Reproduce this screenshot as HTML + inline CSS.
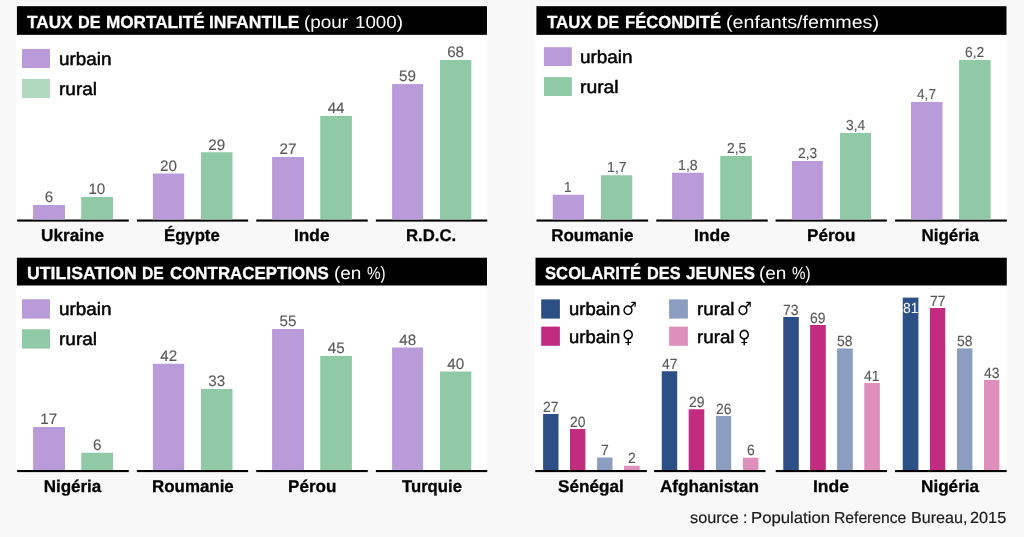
<!DOCTYPE html>
<html lang="fr"><head><meta charset="utf-8"><title>Urbain / rural</title>
<style>
html,body{margin:0;padding:0}
body{width:1024px;height:537px;background:#f8f8f8;position:relative;overflow:hidden;font-family:'Liberation Sans', 'DejaVu Sans', sans-serif}
.r{position:absolute}
.t{position:absolute;white-space:nowrap;transform-origin:0 0;text-rendering:geometricPrecision}
</style></head>
<body>
<svg class="r" width="1024" height="537" viewBox="0 0 1024 537" style="left:0;top:0">
<rect x="16.00" y="5.00" width="471.60" height="214.50" fill="#fff"/>
<rect x="16.90" y="6.20" width="470.10" height="28.65" fill="#000"/>
<rect x="17.10" y="219.50" width="111.65" height="2.10" fill="#000"/>
<rect x="33.10" y="205.00" width="31.90" height="14.50" fill="#b89bd8"/>
<rect x="81.25" y="197.00" width="31.85" height="22.50" fill="#8fc9a5"/>
<rect x="136.90" y="219.50" width="111.20" height="2.10" fill="#000"/>
<rect x="152.90" y="173.50" width="31.30" height="46.00" fill="#b89bd8"/>
<rect x="201.00" y="152.25" width="31.50" height="67.25" fill="#8fc9a5"/>
<rect x="256.25" y="219.50" width="111.50" height="2.10" fill="#000"/>
<rect x="272.10" y="157.00" width="31.90" height="62.50" fill="#b89bd8"/>
<rect x="320.25" y="116.00" width="31.65" height="103.50" fill="#8fc9a5"/>
<rect x="375.90" y="219.50" width="111.35" height="2.10" fill="#000"/>
<rect x="392.10" y="84.10" width="31.00" height="135.40" fill="#b89bd8"/>
<rect x="440.00" y="60.00" width="31.30" height="159.50" fill="#8fc9a5"/>
<rect x="22.00" y="48.90" width="28.00" height="19.10" fill="#b89bd8"/>
<rect x="22.00" y="79.00" width="28.00" height="19.00" fill="#b0d9c0"/>
<rect x="535.50" y="5.00" width="471.60" height="214.50" fill="#fff"/>
<rect x="536.40" y="6.20" width="470.10" height="28.65" fill="#000"/>
<rect x="536.50" y="219.50" width="111.60" height="2.10" fill="#000"/>
<rect x="552.75" y="194.75" width="31.25" height="24.75" fill="#b89bd8"/>
<rect x="601.00" y="175.25" width="31.25" height="44.25" fill="#8fc9a5"/>
<rect x="656.25" y="219.50" width="111.50" height="2.10" fill="#000"/>
<rect x="672.10" y="172.75" width="31.65" height="46.75" fill="#b89bd8"/>
<rect x="720.25" y="156.00" width="31.65" height="63.50" fill="#8fc9a5"/>
<rect x="775.60" y="219.50" width="111.30" height="2.10" fill="#000"/>
<rect x="791.90" y="161.00" width="30.90" height="58.50" fill="#b89bd8"/>
<rect x="840.00" y="133.00" width="31.00" height="86.50" fill="#8fc9a5"/>
<rect x="895.10" y="219.50" width="111.80" height="2.10" fill="#000"/>
<rect x="911.00" y="102.00" width="31.50" height="117.50" fill="#b89bd8"/>
<rect x="959.10" y="60.00" width="31.50" height="159.50" fill="#8fc9a5"/>
<rect x="543.90" y="47.20" width="27.90" height="18.80" fill="#b89bd8"/>
<rect x="543.90" y="77.20" width="27.90" height="18.80" fill="#8fc9a5"/>
<rect x="16.00" y="256.50" width="471.60" height="213.50" fill="#fff"/>
<rect x="16.90" y="257.70" width="470.10" height="27.80" fill="#000"/>
<rect x="17.10" y="470.00" width="111.65" height="2.10" fill="#000"/>
<rect x="33.10" y="427.00" width="31.90" height="43.00" fill="#b89bd8"/>
<rect x="81.25" y="452.75" width="31.85" height="17.25" fill="#8fc9a5"/>
<rect x="136.90" y="470.00" width="111.20" height="2.10" fill="#000"/>
<rect x="152.90" y="363.75" width="31.30" height="106.25" fill="#b89bd8"/>
<rect x="201.00" y="389.00" width="31.50" height="81.00" fill="#8fc9a5"/>
<rect x="256.25" y="470.00" width="111.50" height="2.10" fill="#000"/>
<rect x="272.10" y="329.00" width="31.90" height="141.00" fill="#b89bd8"/>
<rect x="320.25" y="356.00" width="31.65" height="114.00" fill="#8fc9a5"/>
<rect x="375.90" y="470.00" width="111.35" height="2.10" fill="#000"/>
<rect x="392.10" y="347.50" width="31.00" height="122.50" fill="#b89bd8"/>
<rect x="440.00" y="371.50" width="31.30" height="98.50" fill="#8fc9a5"/>
<rect x="22.00" y="299.30" width="28.00" height="19.30" fill="#b89bd8"/>
<rect x="22.00" y="329.30" width="28.00" height="19.30" fill="#8fc9a5"/>
<rect x="534.60" y="256.50" width="472.50" height="213.50" fill="#fff"/>
<rect x="535.50" y="257.70" width="471.30" height="27.80" fill="#000"/>
<rect x="541.20" y="299.40" width="18.70" height="19.20" fill="#2c5086"/>
<rect x="541.20" y="326.60" width="18.70" height="19.20" fill="#c12c80"/>
<rect x="669.10" y="299.40" width="18.80" height="19.20" fill="#8b9ec0"/>
<rect x="669.10" y="326.60" width="18.80" height="19.20" fill="#de8fbb"/>
<rect x="535.30" y="470.00" width="111.60" height="2.10" fill="#000"/>
<rect x="543.10" y="414.00" width="15.40" height="56.00" fill="#2c5086"/>
<rect x="570.00" y="429.00" width="15.40" height="41.00" fill="#c12c80"/>
<rect x="597.10" y="457.50" width="15.40" height="12.50" fill="#8b9ec0"/>
<rect x="624.00" y="465.75" width="15.70" height="4.25" fill="#de8fbb"/>
<rect x="654.10" y="470.00" width="111.40" height="2.10" fill="#000"/>
<rect x="661.75" y="371.25" width="15.45" height="98.75" fill="#2c5086"/>
<rect x="688.70" y="409.25" width="15.60" height="60.75" fill="#c12c80"/>
<rect x="715.90" y="416.00" width="15.30" height="54.00" fill="#8b9ec0"/>
<rect x="743.00" y="457.75" width="15.40" height="12.25" fill="#de8fbb"/>
<rect x="775.75" y="470.00" width="111.25" height="2.10" fill="#000"/>
<rect x="783.25" y="317.00" width="15.55" height="153.00" fill="#2c5086"/>
<rect x="810.10" y="325.00" width="15.70" height="145.00" fill="#c12c80"/>
<rect x="837.10" y="348.50" width="15.70" height="121.50" fill="#8b9ec0"/>
<rect x="864.25" y="383.00" width="15.65" height="87.00" fill="#de8fbb"/>
<rect x="895.10" y="470.00" width="111.65" height="2.10" fill="#000"/>
<rect x="902.75" y="297.60" width="15.65" height="172.40" fill="#2c5086"/>
<rect x="929.90" y="308.00" width="15.40" height="162.00" fill="#c12c80"/>
<rect x="957.00" y="348.40" width="15.40" height="121.60" fill="#8b9ec0"/>
<rect x="984.00" y="380.00" width="15.40" height="90.00" fill="#de8fbb"/>
</svg>
<div class="t" style="left:44.81px;top:186.00px;color:#585858;font:400 15.2px/24px 'Liberation Sans', 'DejaVu Sans', sans-serif;-webkit-text-stroke:0.12px currentColor;">6</div>
<div class="t" style="left:88.40px;top:178.00px;color:#585858;font:400 15.2px/24px 'Liberation Sans', 'DejaVu Sans', sans-serif;-webkit-text-stroke:0.12px currentColor;">10</div>
<div class="t" style="left:41.38px;top:224.00px;color:#000;font:700 17px/24px 'Liberation Sans', 'DejaVu Sans', sans-serif;-webkit-text-stroke:0.3px currentColor;transform:scaleX(1.0118);">Ukraine</div>
<div class="t" style="left:160.02px;top:155.00px;color:#585858;font:400 15.2px/24px 'Liberation Sans', 'DejaVu Sans', sans-serif;-webkit-text-stroke:0.12px currentColor;">20</div>
<div class="t" style="left:208.27px;top:134.00px;color:#585858;font:400 15.2px/24px 'Liberation Sans', 'DejaVu Sans', sans-serif;-webkit-text-stroke:0.12px currentColor;">29</div>
<div class="t" style="left:164.43px;top:224.00px;color:#000;font:700 17px/24px 'Liberation Sans', 'DejaVu Sans', sans-serif;-webkit-text-stroke:0.3px currentColor;transform:scaleX(0.9832);">Égypte</div>
<div class="t" style="left:279.58px;top:138.00px;color:#585858;font:400 15.2px/24px 'Liberation Sans', 'DejaVu Sans', sans-serif;-webkit-text-stroke:0.12px currentColor;">27</div>
<div class="t" style="left:327.65px;top:97.00px;color:#585858;font:400 15.2px/24px 'Liberation Sans', 'DejaVu Sans', sans-serif;-webkit-text-stroke:0.12px currentColor;">44</div>
<div class="t" style="left:294.15px;top:224.00px;color:#000;font:700 17px/24px 'Liberation Sans', 'DejaVu Sans', sans-serif;-webkit-text-stroke:0.3px currentColor;transform:scaleX(1.0161);">Inde</div>
<div class="t" style="left:399.06px;top:65.00px;color:#585858;font:400 15.2px/24px 'Liberation Sans', 'DejaVu Sans', sans-serif;-webkit-text-stroke:0.12px currentColor;">59</div>
<div class="t" style="left:447.14px;top:41.00px;color:#585858;font:400 15.2px/24px 'Liberation Sans', 'DejaVu Sans', sans-serif;-webkit-text-stroke:0.12px currentColor;">68</div>
<div class="t" style="left:406.18px;top:224.00px;color:#000;font:700 17px/24px 'Liberation Sans', 'DejaVu Sans', sans-serif;-webkit-text-stroke:0.3px currentColor;transform:scaleX(0.9838);">R.D.C.</div>
<div class="t" style="left:27.18px;top:10.00px;color:#fff;font:700 17.5px/24px 'Liberation Sans', 'DejaVu Sans', sans-serif;-webkit-text-stroke:0.3px currentColor;transform:scaleX(0.9843);">TAUX</div>
<div class="t" style="left:77.68px;top:10.00px;color:#fff;font:700 17.5px/24px 'Liberation Sans', 'DejaVu Sans', sans-serif;-webkit-text-stroke:0.3px currentColor;transform:scaleX(0.9278);">DE</div>
<div class="t" style="left:105.52px;top:10.00px;color:#fff;font:700 17.5px/24px 'Liberation Sans', 'DejaVu Sans', sans-serif;-webkit-text-stroke:0.3px currentColor;transform:scaleX(0.9785);">MORTALITÉ</div>
<div class="t" style="left:208.90px;top:10.00px;color:#fff;font:700 17.5px/24px 'Liberation Sans', 'DejaVu Sans', sans-serif;-webkit-text-stroke:0.3px currentColor;">INFANTILE</div>
<div class="t" style="left:303.69px;top:10.00px;color:#fff;font:400 17.5px/24px 'Liberation Sans', 'DejaVu Sans', sans-serif;transform:scaleX(1.0787);">(pour</div>
<div class="t" style="left:354.56px;top:10.00px;color:#fff;font:400 17.5px/24px 'Liberation Sans', 'DejaVu Sans', sans-serif;transform:scaleX(1.0717);">1000)</div>
<div class="t" style="left:58.74px;top:47.00px;color:#000;font:400 18px/24px 'Liberation Sans', 'DejaVu Sans', sans-serif;-webkit-text-stroke:0.5px currentColor;transform:scaleX(1.0483);">urbain</div>
<div class="t" style="left:58.74px;top:77.00px;color:#000;font:400 18px/24px 'Liberation Sans', 'DejaVu Sans', sans-serif;-webkit-text-stroke:0.5px currentColor;transform:scaleX(1.0561);">rural</div>
<div class="t" style="left:564.40px;top:176.00px;color:#585858;font:400 14.5px/24px 'Liberation Sans', 'DejaVu Sans', sans-serif;-webkit-text-stroke:0.12px currentColor;transform:scaleX(0.9300);">1</div>
<div class="t" style="left:606.59px;top:156.00px;color:#585858;font:400 14.5px/24px 'Liberation Sans', 'DejaVu Sans', sans-serif;-webkit-text-stroke:0.12px currentColor;transform:scaleX(0.9785);">1,7</div>
<div class="t" style="left:551.17px;top:224.00px;color:#000;font:700 17px/24px 'Liberation Sans', 'DejaVu Sans', sans-serif;-webkit-text-stroke:0.3px currentColor;">Roumanie</div>
<div class="t" style="left:677.89px;top:154.00px;color:#585858;font:400 14.5px/24px 'Liberation Sans', 'DejaVu Sans', sans-serif;-webkit-text-stroke:0.12px currentColor;transform:scaleX(0.9766);">1,8</div>
<div class="t" style="left:726.51px;top:137.00px;color:#585858;font:400 14.5px/24px 'Liberation Sans', 'DejaVu Sans', sans-serif;-webkit-text-stroke:0.12px currentColor;transform:scaleX(0.9517);">2,5</div>
<div class="t" style="left:693.63px;top:224.00px;color:#000;font:700 17px/24px 'Liberation Sans', 'DejaVu Sans', sans-serif;-webkit-text-stroke:0.3px currentColor;transform:scaleX(1.0310);">Inde</div>
<div class="t" style="left:797.78px;top:142.00px;color:#585858;font:400 14.5px/24px 'Liberation Sans', 'DejaVu Sans', sans-serif;-webkit-text-stroke:0.12px currentColor;transform:scaleX(0.9531);">2,3</div>
<div class="t" style="left:845.86px;top:114.00px;color:#585858;font:400 14.5px/24px 'Liberation Sans', 'DejaVu Sans', sans-serif;-webkit-text-stroke:0.12px currentColor;transform:scaleX(0.9525);">3,4</div>
<div class="t" style="left:807.41px;top:224.00px;color:#000;font:700 17px/24px 'Liberation Sans', 'DejaVu Sans', sans-serif;-webkit-text-stroke:0.3px currentColor;transform:scaleX(1.0044);">Pérou</div>
<div class="t" style="left:917.37px;top:83.00px;color:#585858;font:400 14.5px/24px 'Liberation Sans', 'DejaVu Sans', sans-serif;-webkit-text-stroke:0.12px currentColor;transform:scaleX(0.9446);">4,7</div>
<div class="t" style="left:965.25px;top:41.00px;color:#585858;font:400 14.5px/24px 'Liberation Sans', 'DejaVu Sans', sans-serif;-webkit-text-stroke:0.12px currentColor;transform:scaleX(0.9559);">6,2</div>
<div class="t" style="left:921.41px;top:224.00px;color:#000;font:700 17px/24px 'Liberation Sans', 'DejaVu Sans', sans-serif;-webkit-text-stroke:0.3px currentColor;">Nigéria</div>
<div class="t" style="left:547.08px;top:10.00px;color:#fff;font:700 17.5px/24px 'Liberation Sans', 'DejaVu Sans', sans-serif;-webkit-text-stroke:0.3px currentColor;transform:scaleX(0.9647);">TAUX</div>
<div class="t" style="left:597.11px;top:10.00px;color:#fff;font:700 17.5px/24px 'Liberation Sans', 'DejaVu Sans', sans-serif;-webkit-text-stroke:0.3px currentColor;transform:scaleX(0.9014);">DE</div>
<div class="t" style="left:625.20px;top:10.00px;color:#fff;font:700 17.5px/24px 'Liberation Sans', 'DejaVu Sans', sans-serif;-webkit-text-stroke:0.3px currentColor;transform:scaleX(0.9496);">FÉCONDITÉ</div>
<div class="t" style="left:726.34px;top:10.00px;color:#fff;font:400 17.5px/24px 'Liberation Sans', 'DejaVu Sans', sans-serif;transform:scaleX(1.1237);">(enfants/femmes)</div>
<div class="t" style="left:580.43px;top:45.00px;color:#000;font:400 18px/24px 'Liberation Sans', 'DejaVu Sans', sans-serif;-webkit-text-stroke:0.5px currentColor;transform:scaleX(1.0503);">urbain</div>
<div class="t" style="left:580.42px;top:75.00px;color:#000;font:400 18px/24px 'Liberation Sans', 'DejaVu Sans', sans-serif;-webkit-text-stroke:0.5px currentColor;transform:scaleX(1.0738);">rural</div>
<div class="t" style="left:40.34px;top:408.00px;color:#585858;font:400 15.2px/24px 'Liberation Sans', 'DejaVu Sans', sans-serif;-webkit-text-stroke:0.12px currentColor;">17</div>
<div class="t" style="left:92.94px;top:434.00px;color:#585858;font:400 15.2px/24px 'Liberation Sans', 'DejaVu Sans', sans-serif;-webkit-text-stroke:0.12px currentColor;">6</div>
<div class="t" style="left:43.66px;top:475.00px;color:#000;font:700 17px/24px 'Liberation Sans', 'DejaVu Sans', sans-serif;-webkit-text-stroke:0.3px currentColor;">Nigéria</div>
<div class="t" style="left:160.23px;top:345.00px;color:#585858;font:400 15.2px/24px 'Liberation Sans', 'DejaVu Sans', sans-serif;-webkit-text-stroke:0.12px currentColor;">42</div>
<div class="t" style="left:208.27px;top:370.00px;color:#585858;font:400 15.2px/24px 'Liberation Sans', 'DejaVu Sans', sans-serif;-webkit-text-stroke:0.12px currentColor;">33</div>
<div class="t" style="left:151.67px;top:475.00px;color:#000;font:700 17px/24px 'Liberation Sans', 'DejaVu Sans', sans-serif;-webkit-text-stroke:0.3px currentColor;transform:scaleX(0.9951);">Roumanie</div>
<div class="t" style="left:279.49px;top:310.00px;color:#585858;font:400 15.2px/24px 'Liberation Sans', 'DejaVu Sans', sans-serif;-webkit-text-stroke:0.12px currentColor;">55</div>
<div class="t" style="left:327.73px;top:337.00px;color:#585858;font:400 15.2px/24px 'Liberation Sans', 'DejaVu Sans', sans-serif;-webkit-text-stroke:0.12px currentColor;">45</div>
<div class="t" style="left:288.16px;top:475.00px;color:#000;font:700 17px/24px 'Liberation Sans', 'DejaVu Sans', sans-serif;-webkit-text-stroke:0.3px currentColor;transform:scaleX(1.0044);">Pérou</div>
<div class="t" style="left:399.28px;top:329.00px;color:#585858;font:400 15.2px/24px 'Liberation Sans', 'DejaVu Sans', sans-serif;-webkit-text-stroke:0.12px currentColor;">48</div>
<div class="t" style="left:447.28px;top:353.00px;color:#585858;font:400 15.2px/24px 'Liberation Sans', 'DejaVu Sans', sans-serif;-webkit-text-stroke:0.12px currentColor;">40</div>
<div class="t" style="left:402.11px;top:475.00px;color:#000;font:700 17px/24px 'Liberation Sans', 'DejaVu Sans', sans-serif;-webkit-text-stroke:0.3px currentColor;transform:scaleX(0.9809);">Turquie</div>
<div class="t" style="left:27.00px;top:261.00px;color:#fff;font:700 17.5px/24px 'Liberation Sans', 'DejaVu Sans', sans-serif;-webkit-text-stroke:0.3px currentColor;transform:scaleX(1.0116);">UTILISATION</div>
<div class="t" style="left:142.41px;top:261.00px;color:#fff;font:700 17.5px/24px 'Liberation Sans', 'DejaVu Sans', sans-serif;-webkit-text-stroke:0.3px currentColor;transform:scaleX(0.8949);">DE</div>
<div class="t" style="left:170.28px;top:261.00px;color:#fff;font:700 17.5px/24px 'Liberation Sans', 'DejaVu Sans', sans-serif;-webkit-text-stroke:0.3px currentColor;transform:scaleX(0.9662);">CONTRACEPTIONS</div>
<div class="t" style="left:334.08px;top:261.00px;color:#fff;font:400 17.5px/24px 'Liberation Sans', 'DejaVu Sans', sans-serif;transform:scaleX(1.0839);">(en</div>
<div class="t" style="left:366.93px;top:261.00px;color:#fff;font:400 17.5px/24px 'Liberation Sans', 'DejaVu Sans', sans-serif;transform:scaleX(0.8689);">%)</div>
<div class="t" style="left:58.74px;top:297.00px;color:#000;font:400 18px/24px 'Liberation Sans', 'DejaVu Sans', sans-serif;-webkit-text-stroke:0.5px currentColor;transform:scaleX(1.0483);">urbain</div>
<div class="t" style="left:58.74px;top:327.00px;color:#000;font:400 18px/24px 'Liberation Sans', 'DejaVu Sans', sans-serif;-webkit-text-stroke:0.5px currentColor;transform:scaleX(1.0561);">rural</div>
<div class="t" style="left:545.00px;top:261.00px;color:#fff;font:700 17.5px/24px 'Liberation Sans', 'DejaVu Sans', sans-serif;-webkit-text-stroke:0.3px currentColor;transform:scaleX(0.9516);">SCOLARITÉ</div>
<div class="t" style="left:646.77px;top:261.00px;color:#fff;font:700 17.5px/24px 'Liberation Sans', 'DejaVu Sans', sans-serif;-webkit-text-stroke:0.3px currentColor;transform:scaleX(0.9324);">DES</div>
<div class="t" style="left:685.73px;top:261.00px;color:#fff;font:700 17.5px/24px 'Liberation Sans', 'DejaVu Sans', sans-serif;-webkit-text-stroke:0.3px currentColor;transform:scaleX(0.9849);">JEUNES</div>
<div class="t" style="left:759.08px;top:261.00px;color:#fff;font:400 17.5px/24px 'Liberation Sans', 'DejaVu Sans', sans-serif;transform:scaleX(1.0839);">(en</div>
<div class="t" style="left:791.93px;top:261.00px;color:#fff;font:400 17.5px/24px 'Liberation Sans', 'DejaVu Sans', sans-serif;transform:scaleX(0.8689);">%)</div>
<div class="t" style="left:568.86px;top:297.00px;color:#000;font:400 18px/24px 'Liberation Sans', 'DejaVu Sans', sans-serif;-webkit-text-stroke:0.5px currentColor;transform:scaleX(1.0253);">urbain</div>
<div class="t" style="left:568.86px;top:325.00px;color:#000;font:400 18px/24px 'Liberation Sans', 'DejaVu Sans', sans-serif;-webkit-text-stroke:0.5px currentColor;transform:scaleX(1.0253);">urbain</div>
<div class="t" style="left:696.55px;top:297.00px;color:#000;font:400 18px/24px 'Liberation Sans', 'DejaVu Sans', sans-serif;-webkit-text-stroke:0.5px currentColor;transform:scaleX(1.0413);">rural</div>
<div class="t" style="left:696.55px;top:325.00px;color:#000;font:400 18px/24px 'Liberation Sans', 'DejaVu Sans', sans-serif;-webkit-text-stroke:0.5px currentColor;transform:scaleX(1.0413);">rural</div>
<div class="t" style="left:621.82px;top:298.00px;color:#000;font:400 18.3px/24px 'DejaVu Sans', 'Liberation Sans', sans-serif;transform:scaleX(0.9076);">♂</div>
<div class="t" style="left:622.38px;top:326.00px;color:#000;font:400 18.4px/24px 'DejaVu Sans', 'Liberation Sans', sans-serif;transform:scaleX(0.9251);">♀</div>
<div class="t" style="left:737.32px;top:298.00px;color:#000;font:400 18.3px/24px 'DejaVu Sans', 'Liberation Sans', sans-serif;transform:scaleX(0.9076);">♂</div>
<div class="t" style="left:737.88px;top:326.00px;color:#000;font:400 18.4px/24px 'DejaVu Sans', 'Liberation Sans', sans-serif;transform:scaleX(0.9251);">♀</div>
<div class="t" style="left:543.09px;top:396.00px;color:#585858;font:400 14.8px/24px 'Liberation Sans', 'DejaVu Sans', sans-serif;-webkit-text-stroke:0.12px currentColor;transform:scaleX(0.9400);">27</div>
<div class="t" style="left:569.94px;top:411.00px;color:#585858;font:400 14.8px/24px 'Liberation Sans', 'DejaVu Sans', sans-serif;-webkit-text-stroke:0.12px currentColor;transform:scaleX(0.9400);">20</div>
<div class="t" style="left:600.96px;top:439.00px;color:#585858;font:400 14.8px/24px 'Liberation Sans', 'DejaVu Sans', sans-serif;-webkit-text-stroke:0.12px currentColor;transform:scaleX(0.9400);">7</div>
<div class="t" style="left:628.00px;top:447.00px;color:#585858;font:400 14.8px/24px 'Liberation Sans', 'DejaVu Sans', sans-serif;-webkit-text-stroke:0.12px currentColor;transform:scaleX(0.9400);">2</div>
<div class="t" style="left:557.52px;top:475.00px;color:#000;font:700 17px/24px 'Liberation Sans', 'DejaVu Sans', sans-serif;-webkit-text-stroke:0.3px currentColor;transform:scaleX(1.0089);">Sénégal</div>
<div class="t" style="left:661.85px;top:353.00px;color:#585858;font:400 14.8px/24px 'Liberation Sans', 'DejaVu Sans', sans-serif;-webkit-text-stroke:0.12px currentColor;transform:scaleX(0.9400);">47</div>
<div class="t" style="left:688.78px;top:391.00px;color:#585858;font:400 14.8px/24px 'Liberation Sans', 'DejaVu Sans', sans-serif;-webkit-text-stroke:0.12px currentColor;transform:scaleX(0.9400);">29</div>
<div class="t" style="left:715.83px;top:398.00px;color:#585858;font:400 14.8px/24px 'Liberation Sans', 'DejaVu Sans', sans-serif;-webkit-text-stroke:0.12px currentColor;transform:scaleX(0.9400);">26</div>
<div class="t" style="left:746.81px;top:439.00px;color:#585858;font:400 14.8px/24px 'Liberation Sans', 'DejaVu Sans', sans-serif;-webkit-text-stroke:0.12px currentColor;transform:scaleX(0.9400);">6</div>
<div class="t" style="left:659.85px;top:475.00px;color:#000;font:700 17px/24px 'Liberation Sans', 'DejaVu Sans', sans-serif;-webkit-text-stroke:0.3px currentColor;transform:scaleX(1.0063);">Afghanistan</div>
<div class="t" style="left:783.31px;top:299.00px;color:#585858;font:400 14.8px/24px 'Liberation Sans', 'DejaVu Sans', sans-serif;-webkit-text-stroke:0.12px currentColor;transform:scaleX(0.9400);">73</div>
<div class="t" style="left:810.21px;top:307.00px;color:#585858;font:400 14.8px/24px 'Liberation Sans', 'DejaVu Sans', sans-serif;-webkit-text-stroke:0.12px currentColor;transform:scaleX(0.9400);">69</div>
<div class="t" style="left:837.15px;top:330.00px;color:#585858;font:400 14.8px/24px 'Liberation Sans', 'DejaVu Sans', sans-serif;-webkit-text-stroke:0.12px currentColor;transform:scaleX(0.9400);">58</div>
<div class="t" style="left:864.44px;top:365.00px;color:#585858;font:400 14.8px/24px 'Liberation Sans', 'DejaVu Sans', sans-serif;-webkit-text-stroke:0.12px currentColor;transform:scaleX(0.9400);">41</div>
<div class="t" style="left:813.13px;top:475.00px;color:#000;font:700 17px/24px 'Liberation Sans', 'DejaVu Sans', sans-serif;-webkit-text-stroke:0.3px currentColor;transform:scaleX(1.0310);">Inde</div>
<div class="t" style="left:902.92px;top:297.00px;color:#fff;font:400 14.8px/24px 'Liberation Sans', 'DejaVu Sans', sans-serif;transform:scaleX(0.9316);">81</div>
<div class="t" style="left:929.90px;top:290.00px;color:#585858;font:400 14.8px/24px 'Liberation Sans', 'DejaVu Sans', sans-serif;-webkit-text-stroke:0.12px currentColor;transform:scaleX(0.9400);">77</div>
<div class="t" style="left:956.90px;top:330.00px;color:#585858;font:400 14.8px/24px 'Liberation Sans', 'DejaVu Sans', sans-serif;-webkit-text-stroke:0.12px currentColor;transform:scaleX(0.9400);">58</div>
<div class="t" style="left:984.06px;top:362.00px;color:#585858;font:400 14.8px/24px 'Liberation Sans', 'DejaVu Sans', sans-serif;-webkit-text-stroke:0.12px currentColor;transform:scaleX(0.9400);">43</div>
<div class="t" style="left:921.40px;top:475.00px;color:#000;font:700 17px/24px 'Liberation Sans', 'DejaVu Sans', sans-serif;-webkit-text-stroke:0.3px currentColor;transform:scaleX(1.0083);">Nigéria</div>
<div class="t" style="left:689.75px;top:507.00px;color:#1a1a1a;font:400 16px/24px 'Liberation Sans', 'DejaVu Sans', sans-serif;-webkit-text-stroke:0.2px currentColor;transform:scaleX(1.0159);">source</div>
<div class="t" style="left:750.78px;top:507.00px;color:#1a1a1a;font:400 16px/24px 'Liberation Sans', 'DejaVu Sans', sans-serif;-webkit-text-stroke:0.2px currentColor;transform:scaleX(1.0461);">Population</div>
<div class="t" style="left:833.96px;top:507.00px;color:#1a1a1a;font:400 16px/24px 'Liberation Sans', 'DejaVu Sans', sans-serif;-webkit-text-stroke:0.2px currentColor;transform:scaleX(0.9800);">Reference</div>
<div class="t" style="left:911.13px;top:507.00px;color:#1a1a1a;font:400 16px/24px 'Liberation Sans', 'DejaVu Sans', sans-serif;-webkit-text-stroke:0.2px currentColor;transform:scaleX(1.0069);">Bureau,</div>
<div class="t" style="left:970.44px;top:507.00px;color:#1a1a1a;font:400 16px/24px 'Liberation Sans', 'DejaVu Sans', sans-serif;-webkit-text-stroke:0.2px currentColor;transform:scaleX(1.0178);">2015</div>
<div class="t" style="left:743.07px;top:507.00px;color:#1a1a1a;font:400 16px/24px 'Liberation Sans', 'DejaVu Sans', sans-serif;-webkit-text-stroke:0.2px currentColor;">:</div>
</body></html>
